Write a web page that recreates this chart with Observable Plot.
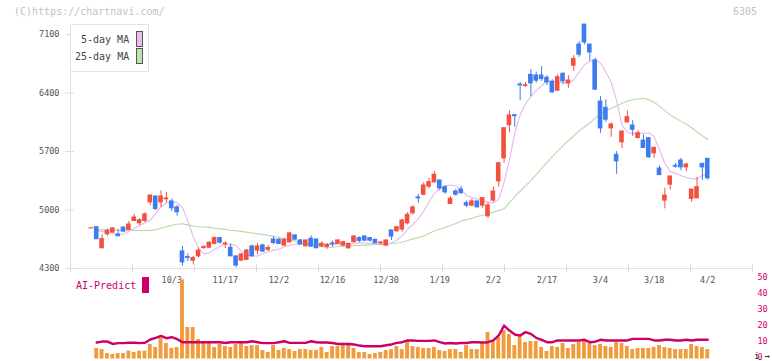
<!DOCTYPE html>
<html><head><meta charset="utf-8">
<script src="https://cdn.jsdelivr.net/npm/d3@7"></script>
<script src="https://cdn.jsdelivr.net/npm/@observablehq/plot@0.6"></script>
<style>
body{margin:0;background:#fff;}
#wrap{position:relative;width:772px;height:361px;overflow:hidden;background:#fff;font-family:"DejaVu Sans Mono",monospace;}
#wrap svg{position:absolute;left:0;top:0;}
.t{position:absolute;white-space:pre;font-size:10px;line-height:10px;}
</style></head><body>
<div id="wrap"></div>
<script>
// first entry = flat pre-period candle, then candles 0..114
const opens = [4782,
 4794,4543,4710,4731,4707,4790,4763,4870,4842,4870,
 5093,5162,5093,5130,5102,5030,4503,4436,4395,4447,
 4547,4550,4595,4663,4590,4548,4444,4396,4404,4563,
 4515,4575,4525,4647,4643,4575,4615,4695,4635,4567,
 4655,4647,4567,4560,4600,4595,4575,4543,4615,4663,
 4683,4663,4643,4603,4575,4755,4747,4767,4842,4962,
 5150,5185,5281,5333,5353,5273,5074,5221,5245,5082,
 5054,5102,5054,4926,5114,5345,5620,6019,6135,6502,
 6486,6618,6610,6610,6582,6534,6430,6630,6518,6729,
 6980,7220,6980,6789,6298,6223,5979,5660,5812,6051,
 6011,5864,5831,5860,5680,5496,5114,5305,5528,5592,
 5512,5134,5142,5552,5612];
const highs = [4782,
 4800,4703,4775,4790,4770,4795,4863,4950,4895,4966,
 5175,5165,5230,5213,5134,5054,4563,4476,4447,4546,
 4575,4625,4680,4675,4620,4590,4450,4480,4525,4580,
 4595,4590,4575,4680,4660,4660,4730,4700,4650,4640,
 4690,4650,4620,4600,4630,4640,4625,4600,4690,4680,
 4690,4665,4650,4625,4640,4760,4800,4890,4970,5050,
 5185,5325,5380,5461,5355,5290,5160,5245,5285,5110,
 5130,5105,5150,5086,5273,5572,5979,6191,6135,6529,
 6530,6683,6650,6717,6610,6560,6620,6645,6610,6849,
 7016,7220,6985,6817,6358,6322,6043,5700,5945,6187,
 6071,5950,5900,5870,5744,5530,5261,5401,5560,5620,
 5560,5245,5393,5552,5620];
const lows = [4782,
 4651,4543,4686,4725,4687,4735,4755,4862,4811,4850,
 5053,4994,5030,5086,4982,4926,4328,4384,4344,4427,
 4527,4540,4585,4590,4540,4440,4310,4385,4395,4440,
 4465,4495,4505,4585,4590,4565,4605,4635,4585,4560,
 4555,4540,4550,4530,4555,4590,4560,4530,4610,4610,
 4620,4615,4600,4575,4570,4635,4735,4735,4820,4940,
 5082,5170,5255,5325,5230,5190,5065,5165,5185,5030,
 5040,5025,5020,4902,5093,5273,5560,5924,5991,6310,
 6466,6358,6520,6540,6490,6400,6420,6500,6458,6661,
 6829,6977,6781,6442,5919,6051,5871,5428,5735,6043,
 5883,5850,5735,5620,5620,5410,5014,5240,5500,5470,
 5460,5093,5142,5353,5360];
const closes = [4782,
 4651,4651,4751,4779,4687,4743,4826,4910,4878,4946,
 5173,5014,5162,5138,5022,4974,4375,4428,4425,4512,
 4555,4607,4663,4611,4598,4447,4336,4467,4515,4447,
 4563,4503,4545,4607,4595,4643,4719,4647,4587,4635,
 4563,4543,4595,4583,4590,4635,4615,4595,4683,4631,
 4635,4635,4603,4610,4635,4683,4794,4874,4942,5030,
 5142,5293,5333,5421,5261,5213,5134,5185,5205,5054,
 5102,5034,5142,5054,5221,5560,5979,6131,6125,6494,
 6494,6518,6550,6570,6529,6410,6590,6542,6550,6809,
 6861,7008,6888,6442,5979,6083,6023,5584,5939,6111,
 5963,5919,5744,5632,5744,5421,5173,5401,5520,5512,
 5544,5245,5273,5512,5381];
// moving averages, candles 0..114
const ma5 = [
 4755,4745,4735,4720,4707,4712,4745,4780,4815,4845,
 4880,4955,5040,5085,5095,5090,5030,4870,4680,4540,
 4475,4490,4530,4565,4590,4595,4570,4505,4460,4447,
 4450,4480,4500,4520,4530,4560,4575,4590,4600,4600,
 4595,4590,4588,4585,4585,4595,4600,4595,4600,4610,
 4605,4600,4595,4590,4583,4605,4640,4690,4770,4830,
 4895,4985,5100,5200,5255,5290,5300,5285,5240,5175,
 5150,5134,5110,5095,5086,5130,5330,5600,5920,6140,
 6270,6360,6430,6490,6545,6545,6530,6525,6518,6560,
 6650,6740,6780,6809,6760,6650,6530,6310,6020,5931,
 5911,5931,5915,5925,5880,5720,5560,5460,5440,5413,
 5390,5375,5373,5413,5420];
const ma25 = [
 4767,4765,4762,4760,4758,4755,4755,4755,4755,4755,
 4757,4765,4782,4800,4818,4830,4835,4822,4808,4800,
 4797,4792,4782,4775,4768,4758,4752,4745,4735,4725,
 4715,4707,4697,4685,4675,4660,4648,4628,4608,4590,
 4580,4570,4562,4556,4555,4563,4567,4570,4575,4577,
 4580,4583,4588,4592,4595,4600,4605,4615,4635,4655,
 4670,4690,4720,4748,4770,4790,4815,4840,4870,4885,
 4900,4922,4938,4955,4975,4995,5014,5090,5160,5225,
 5290,5355,5425,5500,5572,5640,5705,5772,5830,5890,
 5945,5995,6043,6100,6150,6185,6215,6245,6280,6305,
 6320,6330,6338,6320,6290,6245,6190,6140,6100,6065,
 6030,5985,5935,5890,5844];
const volumes = [
 6.6,5.9,3.4,2.8,3.4,3.4,4.9,4.1,4.9,4.9,
 9.1,7.2,13.2,9.7,6.6,7.2,49.5,19.7,19.7,12.2,
 10.3,9.7,7.2,9.1,7.8,7.2,9.1,9.7,7.8,8.4,
 8.4,5.3,4.1,8.4,5.3,6.6,5.9,4.7,5.9,5.9,
 5.3,5.3,7.2,4.1,7.8,7.8,8.4,9.7,6.6,4.1,
 4.1,2.8,3.4,4.1,5.3,5.9,7.8,5.9,10.9,7.8,
 7.2,6.6,6.6,7.2,5.3,4.7,5.9,5.9,4.1,8.4,
 5.9,5.9,9.7,16.6,11.6,13.4,17.8,15.3,8.4,14.7,
 10.3,10.9,10.9,7.2,4.7,7.8,7.2,9.7,6.6,9.1,
 10.3,10.9,9.7,8.4,9.1,7.8,7.2,10.3,9.7,7.8,
 5.9,6.6,6.6,6.6,7.2,8.4,7.2,6.6,5.9,5.9,
 5.9,9.1,7.8,7.2,5.9];
const aiPredict = [
 10.3,10.9,10.9,9.4,9.9,9.9,10.2,10.2,9.9,10.2,
 12.2,13.2,14.4,13.0,13.6,12.4,10.5,10.5,10.5,10.5,
 10.5,10.5,10.5,10.5,10.0,10.5,10.5,10.5,10.5,11.1,
 10.5,9.9,9.9,9.9,10.5,11.1,10.1,10.1,10.1,10.1,
 11.1,10.5,10.3,10.3,10.0,9.4,9.4,9.4,9.1,8.4,
 8.0,8.0,8.0,8.0,8.6,9.1,10.1,10.5,11.6,11.6,
 11.3,11.3,11.3,11.6,10.5,9.7,10.0,9.7,10.0,10.0,
 10.5,10.5,10.3,10.5,11.6,14.7,20.9,17.8,15.3,14.7,
 16.8,15.7,13.2,12.0,10.5,10.5,11.6,11.6,11.6,11.6,
 11.6,12.0,10.5,10.8,12.0,11.6,11.6,11.6,11.6,11.6,
 12.6,12.6,12.6,12.6,11.6,11.6,12.0,12.0,11.6,11.6,
 12.0,11.6,12.0,12.0,12.0];
const yTicks = [4300, 5000, 5700, 6400, 7100];
const volTicks = [0, 10, 20, 30, 40, 50];
const tickIdx = [14, 24, 34, 44, 54, 64, 74, 84, 94, 104, 114];
const tickLabels = ["10/3","11/17","12/2","12/16","12/30","1/19","2/2","2/17","3/4","3/18","4/2"];

const UP = "#f2513f", DOWN = "#3e7bef";
const X0 = -4.89, X1 = 122.35;
const rows = opens.map((o, k) => ({i: k - 1, o, h: highs[k], l: lows[k], c: closes[k]}));
const mrows = ma5.map((v, i) => ({i, m5: v, m25: ma25[i]}));
const vrows = volumes.map((v, i) => ({i, v, a: aiPredict[i]}));
const col = d => (d.c >= d.o ? UP : DOWN);
const gridX = d3.range(12).map(k => X0 + k * (X1 - X0) / 11);
const font = {background: "transparent", fontFamily: "DejaVu Sans Mono", fontSize: "8.5px", overflow: "visible"};

const main = Plot.plot({
  width: 772, height: 361,
  marginTop: 25, marginBottom: 93, marginLeft: 70, marginRight: 20,
  x: {domain: [X0, X1], axis: null},
  y: {domain: [4300, 7210], axis: null},
  style: font,
  marks: [
    Plot.ruleY([4300], {stroke: "#e2e2e2", strokeWidth: 1.2}),
    Plot.ruleX([X0], {stroke: "#e2e2e2", strokeWidth: 1.2}),
    Plot.axisY(yTicks, {tickSize: 9, dx: 4, tickFormat: () => "", stroke: "#dcdcdc"}),
    Plot.axisY(yTicks, {tickSize: 0, tickPadding: 11, tickFormat: d => String(d), fill: "#555"}),
    Plot.axisX(gridX, {tickSize: 8, dy: -4, tickFormat: () => "", stroke: "#dcdcdc"}),
    Plot.text(tickIdx, {x: d => d, text: (d, k) => tickLabels[k], frameAnchor: "bottom", dy: 14, fill: "#555"}),
    Plot.line(mrows, {x: "i", y: "m25", stroke: "#b5dca5", strokeWidth: 1.1}),
    Plot.line(mrows, {x: "i", y: "m5", stroke: "#e9b6ee", strokeWidth: 1.1}),
    Plot.ruleX(rows, {x: "i", y1: "l", y2: "h", stroke: col, strokeWidth: 1}),
    Plot.rect(rows, {x1: d => d.i - 0.43, x2: d => d.i + 0.43, y1: "o", y2: "c", fill: col, insetTop: -0.6, insetBottom: -0.6})
  ]
});

const vol = Plot.plot({
  width: 772, height: 361,
  marginTop: 278.5, marginBottom: 2.5, marginLeft: 70, marginRight: 20,
  x: {domain: [X0, X1], axis: null},
  y: {domain: [0, 50], axis: null},
  style: font,
  marks: [
    Plot.rectY(vrows, {x1: d => d.i - 0.36, x2: d => d.i + 0.36, y: "v", fill: "#f29a3e"}),
    Plot.line(vrows, {x: "i", y: "a", stroke: "#cc0066", strokeWidth: 2.4}),
    Plot.axisY(volTicks, {anchor: "right", tickSize: 0, tickPadding: 5, dy: -1.5, tickFormat: d => String(d), fill: "#cc0066"})
  ]
});

const wrap = document.getElementById("wrap");
wrap.appendChild(main);
wrap.appendChild(vol);
function addText(txt, css) {
  const d = document.createElement("div");
  d.className = "t"; d.textContent = txt;
  Object.assign(d.style, css);
  wrap.appendChild(d);
  return d;
}
addText("(C)https://chartnavi.com/", {left: "14px", top: "7px", color: "#c2c2c2"});
addText("6305", {left: "733px", top: "7px", color: "#c2c2c2"});
const box = document.createElement("div");
Object.assign(box.style, {position: "absolute", left: "70px", top: "24px", width: "77px", height: "46px", border: "1px solid #e2e2e2", background: "#fff"});
wrap.appendChild(box);
addText("5-day MA", {left: "81px", top: "35px", color: "#444", width: "48px", textAlign: "right"});
addText("25-day MA", {left: "75px", top: "52px", color: "#444", width: "54px", textAlign: "right"});
const sw = (top, color) => {
  const s = document.createElement("div");
  Object.assign(s.style, {position: "absolute", left: "136px", top: top + "px", width: "5px", height: "14px", border: "1px solid #555", background: color});
  wrap.appendChild(s);
};
sw(31, "#ecbcef");
sw(48, "#bfe0b0");
addText("AI-Predict", {left: "76px", top: "281px", color: "#cc0066"});
const aiSw = document.createElement("div");
Object.assign(aiSw.style, {position: "absolute", left: "142px", top: "277px", width: "7px", height: "16px", background: "#cc0066"});
wrap.appendChild(aiSw);
</script>
</body></html>
